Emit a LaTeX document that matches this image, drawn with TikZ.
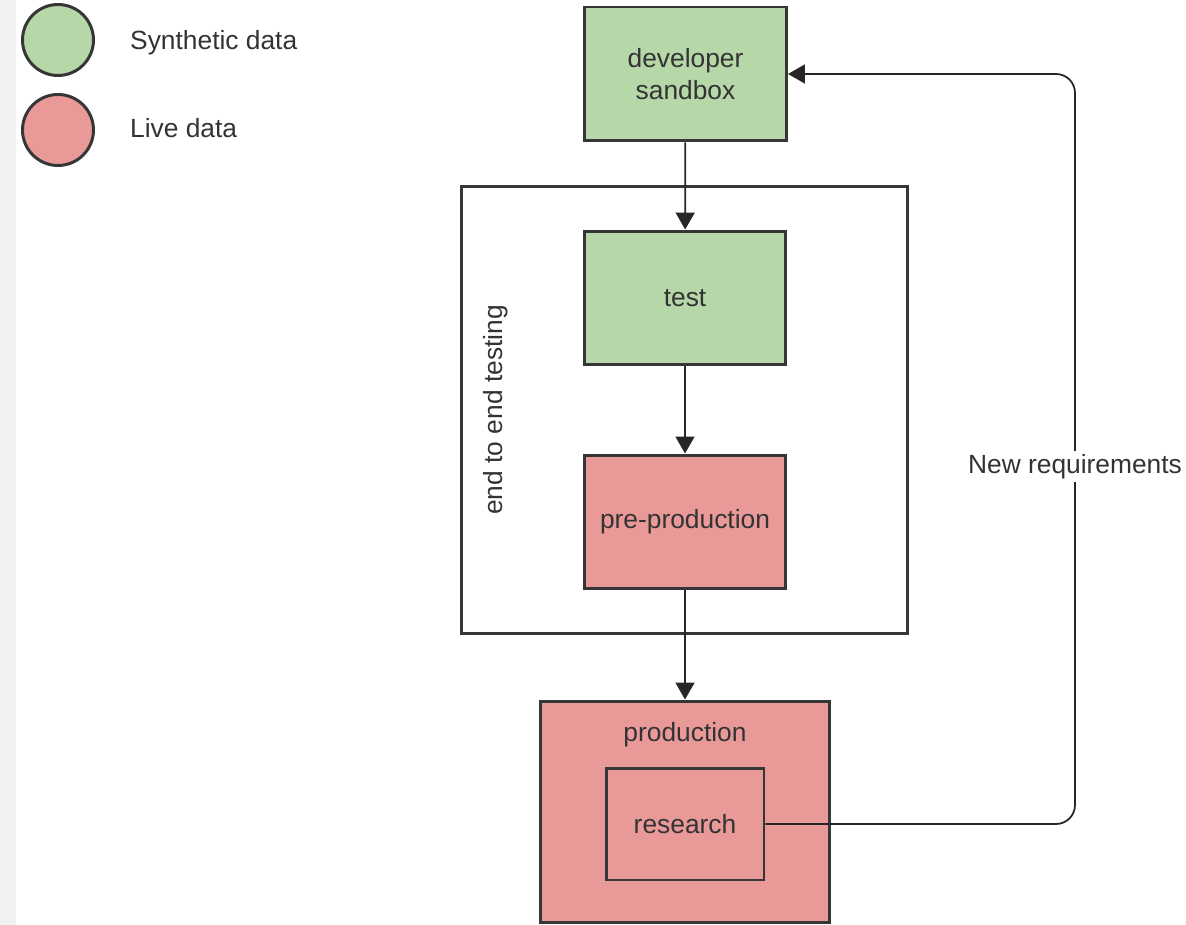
\documentclass[tikz,border=0pt]{standalone}
\usepackage{fontspec}
\setmainfont{Liberation Sans}
\usepackage{xcolor}
\usetikzlibrary{arrows.meta, positioning}

\definecolor{synth}{HTML}{B6D7A8}
\definecolor{live}{HTML}{EA9999}
\definecolor{edgegray}{HTML}{363636}

\begin{document}
\begin{tikzpicture}[
    x=0.02cm, y=-0.02cm,
    font=\fontsize{15}{18}\selectfont,
    stage/.style={draw=edgegray, line width=1.7pt, align=center, text=black!80,
        minimum width=4.04cm, minimum height=2.68cm},
    legend/.style={circle, draw=edgegray, line width=1.7pt, minimum size=1.42cm},
    flow/.style={draw=black!85, line width=1pt, -{Triangle[length=0.34cm, width=0.38cm]}}
]

\useasboundingbox (0,0) rectangle (1186,925);
\fill[black!5] (0,0) rectangle (16,925);

% legend
\node[legend, fill=synth] (lgsynth) at (58,40) {};
\node[legend, fill=live] (lglive) at (58,130) {};
\node[anchor=west, text=black!80] (lgsynthtxt) at (124,43) {Synthetic data};
\node[anchor=west, text=black!80] (lglivetxt) at (124,128) {Live data};

% testing frame
\node[draw=edgegray, line width=1.7pt, minimum width=8.94cm, minimum height=8.96cm] (e2e) at (684.5,410) {};
\node[rotate=90, text=black!80] (e2elabel) at (496,410) {end to end testing};

% stages
\node[stage, fill=synth] (dev) at (685.5,74) {developer\\sandbox};
\node[stage, fill=synth] (test) at (685,298) {test};
\node[stage, fill=live] (preprod) at (685,522) {pre-production};
\node[stage, fill=live, minimum width=5.8cm, minimum height=4.44cm] (prod) at (685,812) {};
\node[text=black!80] (prodlabel) at (685,735) {production};
\node[stage, fill=live, minimum width=3.16cm, minimum height=2.24cm] (res) at (685,824) {research};

\draw[flow] (dev) -- (test);
\draw[flow] (test) -- (preprod);
\draw[flow] (preprod) -- (prod);

% feedback loop
\coordinate (loop) at (1075,463);
\draw[flow, rounded corners=0.38cm] (res.east) -| (loop) |- (dev.east);
\node[fill=white, text=black!80, inner sep=2pt, yshift=-2pt] (newreq) at (loop) {New requirements};

\end{tikzpicture}
\end{document}
